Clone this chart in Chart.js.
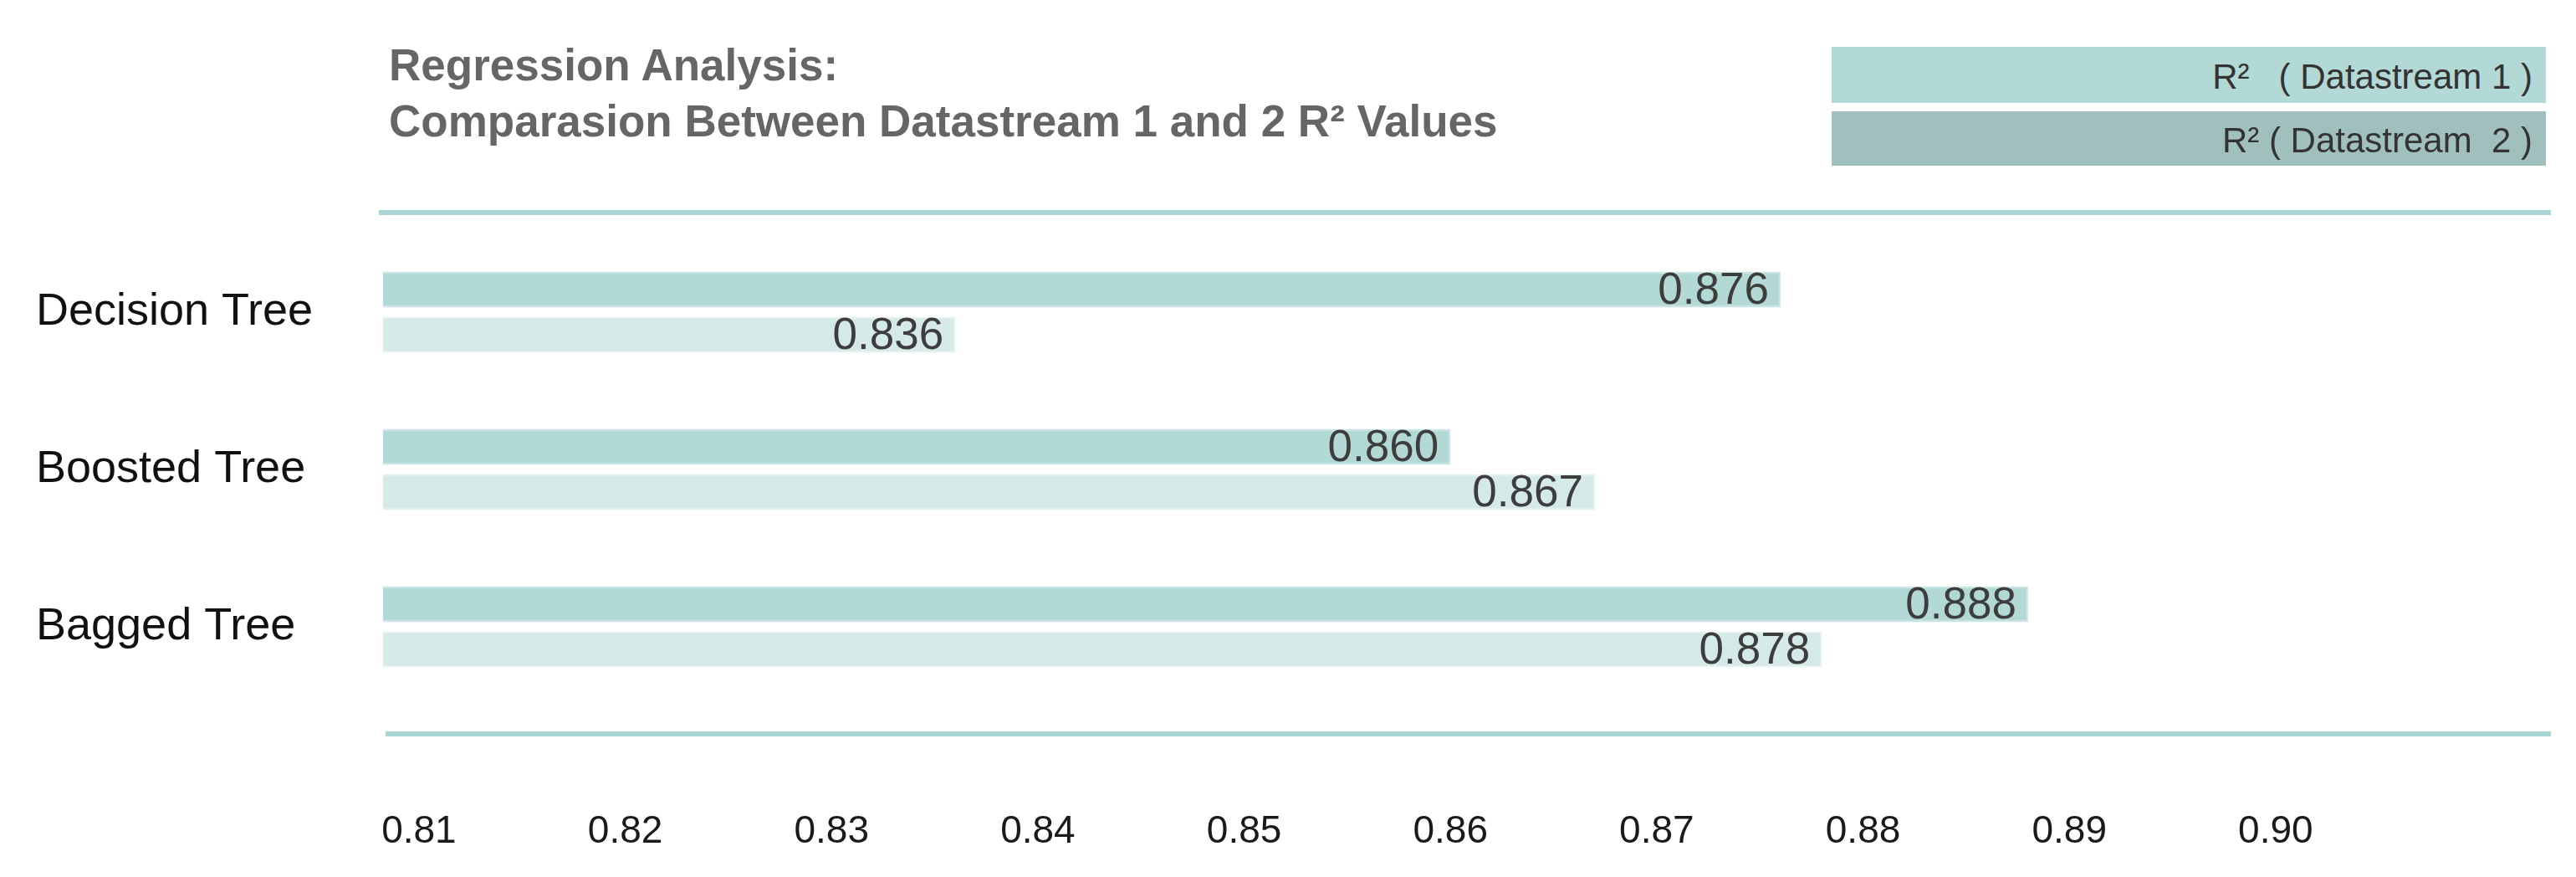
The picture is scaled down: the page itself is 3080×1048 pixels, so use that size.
<!DOCTYPE html>
<html>
<head>
<meta charset="utf-8">
<script src="https://cdn.jsdelivr.net/npm/chart.js@4/dist/chart.umd.min.js"></script>
<style>
  body { margin: 0; background: #fff; }
  #wrap { position: relative; width: 3080px; height: 1048px; font-family: "Liberation Sans", Arial, sans-serif; }
  #title { position: absolute; left: 465px; top: 44px; font-weight: bold; font-size: 53px; line-height: 67px; color: #666; }
  .key { position: absolute; left: 2190px; width: 854px; box-sizing: border-box; padding-right: 16px;
         text-align: right; font-size: 42px; color: #333; white-space: pre; }
  .key span { position: relative; top: 2px; }
  #key1 { top: 56px; height: 67px; line-height: 67px; background: #b3d9d6; }
  #key2 { top: 133px; height: 65px; line-height: 65px; background: #a1bfbc; }
  canvas { position: absolute; left: 0; top: 0; }
</style>
</head>
<body>
<div id="wrap">
  <canvas id="chart" width="3080" height="1048"></canvas>
  <div id="title">Regression Analysis:<br>Comparasion Between Datastream 1 and 2 R² Values</div>
  <div class="key" id="key1"><span>R²   ( Datastream 1 )</span></div>
  <div class="key" id="key2"><span>R² ( Datastream  2 )</span></div>
</div>
<script>
const categories = ['Decision Tree', 'Boosted Tree', 'Bagged Tree'];
const r2Stream1 = [0.876, 0.860, 0.888];
const r2Stream2 = [0.836, 0.867, 0.878];
const tickValues = [0.81, 0.82, 0.83, 0.84, 0.85, 0.86, 0.87, 0.88, 0.89, 0.90];

// teal rules above and below the bars
const frameLines = {
  id: 'frameLines',
  beforeDraw(chart) {
    const { ctx, chartArea } = chart;
    ctx.save();
    ctx.strokeStyle = '#a9d5d3';
    ctx.lineWidth = 6;
    ctx.beginPath();
    ctx.moveTo(chartArea.left - 5, chartArea.top - 25);
    ctx.lineTo(chartArea.right + 6, chartArea.top - 25);
    ctx.moveTo(chartArea.left + 3, chartArea.bottom + 34);
    ctx.lineTo(chartArea.right + 6, chartArea.bottom + 34);
    ctx.stroke();
    ctx.restore();
  }
};

// value printed inside the end of each bar
const valueLabels = {
  id: 'valueLabels',
  afterDatasetsDraw(chart) {
    const ctx = chart.ctx;
    ctx.save();
    ctx.font = '53px "Liberation Sans", Arial, sans-serif';
    ctx.fillStyle = '#3d3d3d';
    ctx.textAlign = 'right';
    ctx.textBaseline = 'middle';
    chart.data.datasets.forEach((ds, i) => {
      chart.getDatasetMeta(i).data.forEach((bar, j) => {
        ctx.fillText(ds.data[j].toFixed(3), bar.x - 14, bar.y + 2);
      });
    });
    ctx.restore();
  }
};

new Chart(document.getElementById('chart'), {
  type: 'bar',
  data: {
    labels: categories,
    datasets: [{
      label: 'R² ( Datastream 1 )',
      data: r2Stream1,
      backgroundColor: '#b3d9d6',
      borderColor: '#c9e5e2',
      borderWidth: 2
    }, {
      label: 'R² ( Datastream 2 )',
      data: r2Stream2,
      backgroundColor: '#d5eae8',
      borderColor: '#e3f1ef',
      borderWidth: 2
    }]
  },
  options: {
    indexAxis: 'y',
    responsive: false,
    devicePixelRatio: 1,
    animation: false,
    categoryPercentage: 0.574,
    barPercentage: 0.8,
    layout: { padding: { left: 43, right: 36, top: 279, bottom: 0 } },
    plugins: {
      legend: { display: false },
      tooltip: { enabled: false }
    },
    scales: {
      x: {
        min: 0.80826,
        max: 0.9131,
        afterBuildTicks: scale => { scale.ticks = tickValues.map(v => ({ value: v })); },
        afterFit: scale => { scale.height = 205; },
        grid: { display: false, drawTicks: false },
        border: { display: false },
        ticks: {
          padding: 124,
          color: '#1a1a1a',
          font: { family: '"Liberation Sans", Arial, sans-serif', size: 46 },
          callback: v => v.toFixed(2)
        }
      },
      y: {
        afterFit: scale => { scale.width = 415; },
        grid: { display: false, drawTicks: false },
        border: { display: false },
        ticks: {
          crossAlign: 'far',
          color: '#111',
          font: { family: '"Liberation Sans", Arial, sans-serif', size: 54 }
        }
      }
    }
  },
  plugins: [frameLines, valueLabels]
});
</script>
</body>
</html>
